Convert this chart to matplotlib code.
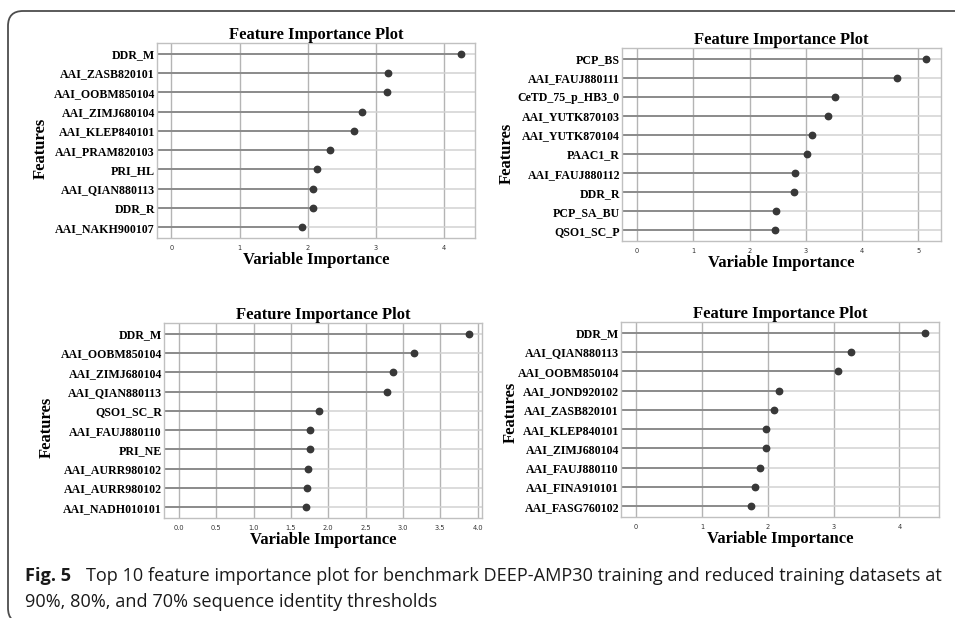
import matplotlib
matplotlib.use("Agg")
import matplotlib.pyplot as plt
from matplotlib.patches import FancyBboxPatch
import numpy as np

# ---DATA (top feature first)---
feat_full = ["DDR_M", "AAI_ZASB820101", "AAI_OOBM850104", "AAI_ZIMJ680104",
             "AAI_KLEP840101", "AAI_PRAM820103", "PRI_HL", "AAI_QIAN880113",
             "DDR_R", "AAI_NAKH900107"]
imp_full = [4.24, 3.17, 3.16, 2.79, 2.67, 2.33, 2.14, 2.08, 2.07, 1.92]

feat_90 = ["PCP_BS", "AAI_FAUJ880111", "CeTD_75_p_HB3_0", "AAI_YUTK870103",
           "AAI_YUTK870104", "PAAC1_R", "AAI_FAUJ880112", "DDR_R",
           "PCP_SA_BU", "QSO1_SC_P"]
imp_90 = [5.14, 4.61, 3.52, 3.39, 3.11, 3.02, 2.81, 2.78, 2.47, 2.45]

feat_80 = ["DDR_M", "AAI_OOBM850104", "AAI_ZIMJ680104", "AAI_QIAN880113",
           "QSO1_SC_R", "AAI_FAUJ880110", "PRI_NE", "AAI_AURR980102",
           "AAI_AURR980102", "AAI_NADH010101"]
imp_80 = [3.89, 3.15, 2.87, 2.79, 1.88, 1.76, 1.75, 1.73, 1.71, 1.70]

feat_70 = ["DDR_M", "AAI_QIAN880113", "AAI_OOBM850104", "AAI_JOND920102",
           "AAI_ZASB820101", "AAI_KLEP840101", "AAI_ZIMJ680104", "AAI_FAUJ880110",
           "AAI_FINA910101", "AAI_FASG760102"]
imp_70 = [4.38, 3.26, 3.06, 2.17, 2.10, 1.97, 1.97, 1.88, 1.81, 1.74]

xticks_int = [0, 1, 2, 3, 4]
xticks_90 = [0, 1, 2, 3, 4, 5]
xticks_80 = [0.0, 0.5, 1.0, 1.5, 2.0, 2.5, 3.0, 3.5, 4.0]

W, H = 955, 618
fig = plt.figure(figsize=(W / 100, H / 100), dpi=100)
fig.patch.set_facecolor("white")

SERIF = "Liberation Serif"


def px_box(x0, y0, x1, y1):
    # pixel box (top-left origin) -> figure fraction [l, b, w, h]
    return [x0 / W, 1 - y1 / H, (x1 - x0) / W, (y1 - y0) / H]


def lollipop(rect, feats, vals, xlim, ticks, ticklabels, ylab_xy):
    ax = fig.add_axes(rect)
    y = np.arange(len(feats))
    ax.set_xlim(*xlim)
    ax.set_ylim(len(feats) - 0.45, -0.55)
    # full-width light row lines
    for yy in y:
        ax.axhline(yy, color="#d2d2d2", lw=1.1, zorder=1)
    for t in ticks:
        ax.axvline(t, color="#b4b4b4", lw=1.0, zorder=0.5)
    ax.hlines(y, xlim[0], vals, color="#858585", lw=1.3, zorder=2)
    ax.plot(vals, y, "o", color="#383838", ms=4.6, zorder=3)
    ax.set_yticks(y)
    ax.set_yticklabels(feats, fontfamily=SERIF, fontweight="bold", fontsize=8.6)
    ax.set_xticks(ticks)
    ax.set_xticklabels(ticklabels, fontsize=4.8, color="#333333")
    ax.tick_params(axis="y", length=0, pad=1.5)
    ax.tick_params(axis="x", length=0, pad=5)
    for s in ax.spines.values():
        s.set_color("#c0c0c0")
        s.set_linewidth(1.0)
    ax.set_title("Feature Importance Plot", fontfamily=SERIF, fontweight="bold",
                 fontsize=12.0, pad=3)
    ax.set_xlabel("Variable Importance", fontfamily=SERIF, fontweight="bold",
                  fontsize=11.9, labelpad=1)
    fig.text(ylab_xy[0] / W, 1 - ylab_xy[1] / H, "Features", rotation=90,
             ha="center", va="center", fontfamily=SERIF, fontweight="bold",
             fontsize=12.0)
    return ax


lollipop(px_box(157, 43, 475, 238), feat_full, imp_full, (-0.21, 4.45),
         xticks_int, [str(t) for t in xticks_int], (41, 148))
lollipop(px_box(622, 48, 941, 241), feat_90, imp_90, (-0.27, 5.4),
         xticks_90, [str(t) for t in xticks_90], (507, 153))
lollipop(px_box(164, 323, 482, 518), feat_80, imp_80, (-0.2, 4.06),
         xticks_80, ["%.1f" % t for t in xticks_80], (47, 427))
lollipop(px_box(621, 322, 939, 517), feat_70, imp_70, (-0.23, 4.6),
         xticks_int, [str(t) for t in xticks_int], (511, 412))

# rounded frame around the figure (open at right/bottom)
frame = FancyBboxPatch((0.08, -0.05), 9.9, 6.12,
                       boxstyle="round,pad=0,rounding_size=0.15",
                       transform=fig.dpi_scale_trans, fill=False,
                       edgecolor="#4d4d4d", lw=1.3, clip_on=False)
fig.patches.append(frame)

# caption
CAP = "Open Sans"
fig.text(25 / W, 1 - 581 / H, "Fig. 5", fontfamily=CAP, fontweight="bold",
         fontsize=13.1, va="baseline", color="#1a1a1a")
fig.text(86 / W, 1 - 581 / H,
         "Top 10 feature importance plot for benchmark DEEP-AMP30 training and reduced training datasets at",
         fontfamily=CAP, fontsize=13.05, va="baseline", color="#1a1a1a")
fig.text(25 / W, 1 - 607 / H, "90%, 80%, and 70% sequence identity thresholds",
         fontfamily=CAP, fontsize=13.05, va="baseline", color="#1a1a1a")

fig.savefig("out.png", dpi=100)
